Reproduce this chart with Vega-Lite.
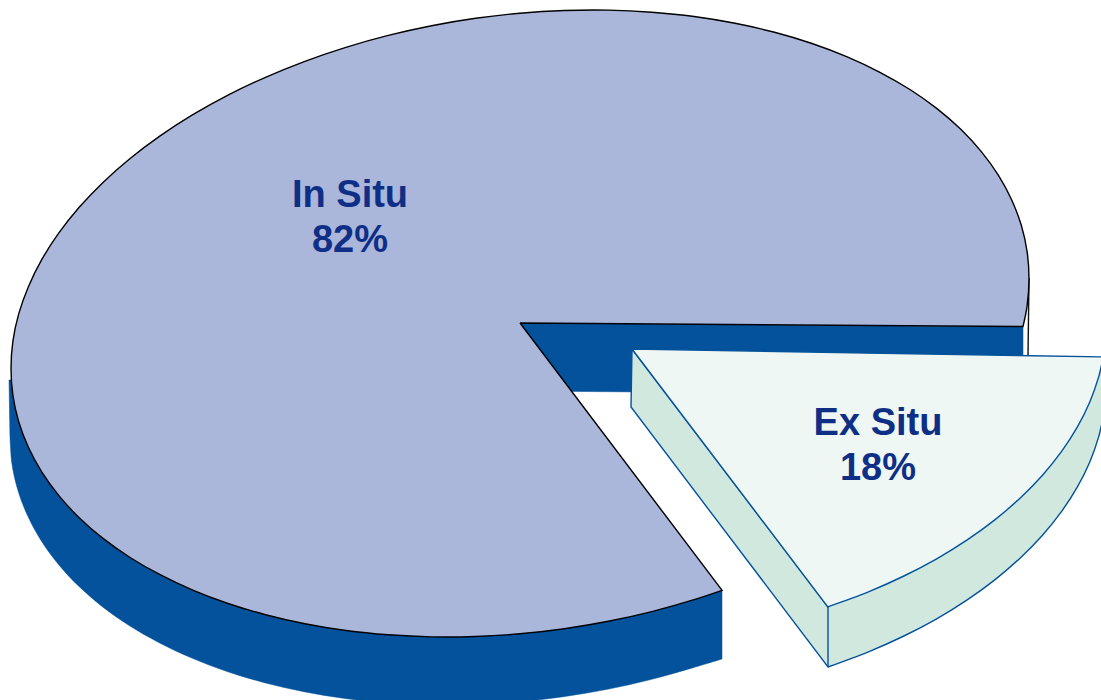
{"$schema":"https://vega.github.io/schema/vega-lite/v6.json","width":1101,"height":700,"padding":0,"autosize":{"type":"none"},"background":"white","config":{"view":{"stroke":null}},
"datasets":{
"inner":[{"seq":1,"x":520,"y":323},{"seq":2,"x":1023,"y":327},{"seq":3,"x":1023,"y":395},{"seq":4,"x":520,"y":391},{"seq":5,"x":520,"y":323}],
"rimline":[{"seq":1,"x":1029,"y":278},{"seq":2,"x":1028,"y":356}],
"side":[{"seq":1,"x":722,"y":591},{"seq":1.5,"x":722,"y":591},{"seq":2,"x":722,"y":659},{"seq":2.5,"x":722,"y":659},{"seq":3,"x":693.1,"y":667.7},{"seq":4,"x":650.7,"y":679.6},{"seq":5,"x":607.4,"y":689.3},{"seq":6,"x":563.4,"y":696.7},{"seq":7,"x":519,"y":701.8},{"seq":8,"x":474.6,"y":704.5},{"seq":9,"x":430.6,"y":704.9},{"seq":10,"x":387.3,"y":702.8},{"seq":11,"x":344.9,"y":698.5},{"seq":12,"x":303.9,"y":691.7},{"seq":13,"x":264.5,"y":682.7},{"seq":14,"x":227,"y":671.5},{"seq":15,"x":191.8,"y":658.1},{"seq":16,"x":159.1,"y":642.7},{"seq":17,"x":129.1,"y":625.5},{"seq":18,"x":102,"y":606.4},{"seq":19,"x":78.2,"y":585.7},{"seq":20,"x":57.7,"y":563.4},{"seq":21,"x":40.7,"y":539.9},{"seq":22,"x":27.4,"y":515.3},{"seq":23,"x":17.7,"y":489.7},{"seq":24,"x":11.9,"y":463.4},{"seq":25,"x":10,"y":436.5},{"seq":25.5,"x":10,"y":436.5},{"seq":26,"x":9,"y":380},{"seq":26.5,"x":9,"y":380},{"seq":27,"x":520,"y":323},{"seq":27.5,"x":520,"y":323},{"seq":28,"x":722,"y":591},{"seq":28.5,"x":722,"y":591}],
"top":[{"seq":0,"x":520,"y":323},{"seq":0.5,"x":520,"y":323},{"seq":1,"x":722.1,"y":590.4},{"seq":1.5,"x":722.1,"y":590.4},{"seq":2,"x":694.1,"y":599.7},{"seq":3,"x":651.7,"y":611.6},{"seq":4,"x":608.4,"y":621.3},{"seq":5,"x":564.4,"y":628.7},{"seq":6,"x":520,"y":633.8},{"seq":7,"x":475.6,"y":636.5},{"seq":8,"x":431.6,"y":636.9},{"seq":9,"x":388.3,"y":634.8},{"seq":10,"x":345.9,"y":630.5},{"seq":11,"x":304.9,"y":623.7},{"seq":12,"x":265.5,"y":614.7},{"seq":13,"x":228,"y":603.5},{"seq":14,"x":192.8,"y":590.1},{"seq":15,"x":160.1,"y":574.7},{"seq":16,"x":130.1,"y":557.5},{"seq":17,"x":103,"y":538.4},{"seq":18,"x":79.2,"y":517.7},{"seq":19,"x":58.7,"y":495.4},{"seq":20,"x":41.7,"y":471.9},{"seq":21,"x":28.4,"y":447.3},{"seq":22,"x":18.7,"y":421.7},{"seq":23,"x":12.9,"y":395.4},{"seq":24,"x":11,"y":368.5},{"seq":25,"x":12.9,"y":341.2},{"seq":26,"x":18.7,"y":313.9},{"seq":27,"x":28.4,"y":286.7},{"seq":28,"x":41.7,"y":259.7},{"seq":29,"x":58.7,"y":233.2},{"seq":30,"x":79.2,"y":207.3},{"seq":31,"x":103,"y":182.4},{"seq":32,"x":130.1,"y":158.5},{"seq":33,"x":160.1,"y":135.9},{"seq":34,"x":192.8,"y":114.7},{"seq":35,"x":228,"y":95.1},{"seq":36,"x":265.5,"y":77.3},{"seq":37,"x":304.9,"y":61.3},{"seq":38,"x":345.9,"y":47.3},{"seq":39,"x":388.3,"y":35.4},{"seq":40,"x":431.6,"y":25.7},{"seq":41,"x":475.6,"y":18.3},{"seq":42,"x":520,"y":13.2},{"seq":43,"x":564.4,"y":10.5},{"seq":44,"x":608.4,"y":10.1},{"seq":45,"x":651.7,"y":12.2},{"seq":46,"x":694.1,"y":16.5},{"seq":47,"x":735.1,"y":23.3},{"seq":48,"x":774.5,"y":32.3},{"seq":49,"x":812,"y":43.5},{"seq":50,"x":847.2,"y":56.9},{"seq":51,"x":879.9,"y":72.3},{"seq":52,"x":909.9,"y":89.5},{"seq":53,"x":937,"y":108.6},{"seq":54,"x":960.8,"y":129.3},{"seq":55,"x":981.3,"y":151.6},{"seq":56,"x":998.3,"y":175.1},{"seq":57,"x":1011.6,"y":199.7},{"seq":58,"x":1021.3,"y":225.3},{"seq":59,"x":1027.1,"y":251.6},{"seq":60,"x":1029,"y":278.5},{"seq":61,"x":1027.1,"y":305.8},{"seq":62,"x":1023,"y":326.5},{"seq":62.5,"x":1023,"y":326.5},{"seq":63,"x":520,"y":323},{"seq":63.5,"x":520,"y":323}],
"sliceside":[{"seq":1,"x":632,"y":349},{"seq":1.5,"x":632,"y":349},{"seq":2,"x":631,"y":407},{"seq":2.5,"x":631,"y":407},{"seq":3,"x":828,"y":667},{"seq":3.5,"x":828,"y":667},{"seq":4,"x":869,"y":651.6},{"seq":5,"x":903.9,"y":636},{"seq":6,"x":936.7,"y":618.8},{"seq":7,"x":967.2,"y":599.9},{"seq":8,"x":995.1,"y":579.6},{"seq":9,"x":1020.3,"y":557.9},{"seq":10,"x":1042.5,"y":535.2},{"seq":11,"x":1061.6,"y":511.4},{"seq":12,"x":1077.4,"y":486.9},{"seq":13,"x":1089.8,"y":461.9},{"seq":14,"x":1098.8,"y":436.4},{"seq":15,"x":1103.2,"y":416.9},{"seq":15.5,"x":1103.2,"y":416.9},{"seq":16,"x":1103.2,"y":356.9},{"seq":16.5,"x":1103.2,"y":356.9},{"seq":17,"x":828,"y":607},{"seq":17.5,"x":828,"y":607},{"seq":18,"x":632,"y":349},{"seq":18.5,"x":632,"y":349}],
"slicetop":[{"seq":1,"x":632,"y":349},{"seq":1.5,"x":632,"y":349},{"seq":2,"x":1103.2,"y":356.9},{"seq":2.5,"x":1103.2,"y":356.9},{"seq":3,"x":1098.8,"y":376.4},{"seq":4,"x":1089.8,"y":401.9},{"seq":5,"x":1077.4,"y":426.9},{"seq":6,"x":1061.6,"y":451.4},{"seq":7,"x":1042.5,"y":475.2},{"seq":8,"x":1020.3,"y":497.9},{"seq":9,"x":995.1,"y":519.6},{"seq":10,"x":967.2,"y":539.9},{"seq":11,"x":936.7,"y":558.8},{"seq":12,"x":903.9,"y":576},{"seq":13,"x":869,"y":591.6},{"seq":14,"x":827.8,"y":606.8},{"seq":14.5,"x":827.8,"y":606.8},{"seq":15,"x":632,"y":349},{"seq":15.5,"x":632,"y":349}],
"sliceedge":[{"seq":1,"x":828,"y":607},{"seq":2,"x":828,"y":667}],
"labels":[{"label":"In Situ","x":350,"y":207},{"label":"82%","x":350,"y":252},{"label":"Ex Situ","x":878,"y":435},{"label":"18%","x":878,"y":480}]},
"encoding":{"x":{"field":"x","type":"quantitative","scale":{"domain":[0,1101],"nice":false,"zero":false},"axis":null},"y":{"field":"y","type":"quantitative","scale":{"domain":[700,0],"nice":false,"zero":false},"axis":null},"order":{"field":"seq","type":"quantitative"}},
"layer":[
{"data":{"name":"rimline"},"mark":{"type":"line","stroke":"#111111","strokeWidth":1.4,"clip":true}},
{"data":{"name":"inner"},"mark":{"type":"line","fill":"#03529b","stroke":"#03529b","strokeWidth":0.5,"clip":true}},
{"data":{"name":"side"},"mark":{"type":"line","interpolate":"catmull-rom","fill":"#03529b","stroke":"#03529b","strokeWidth":0.5,"clip":true}},
{"data":{"name":"top"},"mark":{"type":"line","interpolate":"catmull-rom","fill":"#aab6da","stroke":"#000000","strokeWidth":1.4,"clip":true}},
{"data":{"name":"sliceside"},"mark":{"type":"line","interpolate":"catmull-rom","fill":"#d0e8de","stroke":"#03529b","strokeWidth":1.4,"clip":true}},
{"data":{"name":"slicetop"},"mark":{"type":"line","interpolate":"catmull-rom","fill":"#eef7f4","stroke":"#03529b","strokeWidth":1.4,"clip":true}},
{"data":{"name":"sliceedge"},"mark":{"type":"line","stroke":"#03529b","strokeWidth":1.4,"clip":true}},
{"data":{"name":"labels"},"mark":{"type":"text","font":"Liberation Sans","fontWeight":"bold","fontSize":38,"align":"center","baseline":"alphabetic","color":"#0f2f86"},"encoding":{"text":{"field":"label","type":"nominal"},"order":null}}
]}
